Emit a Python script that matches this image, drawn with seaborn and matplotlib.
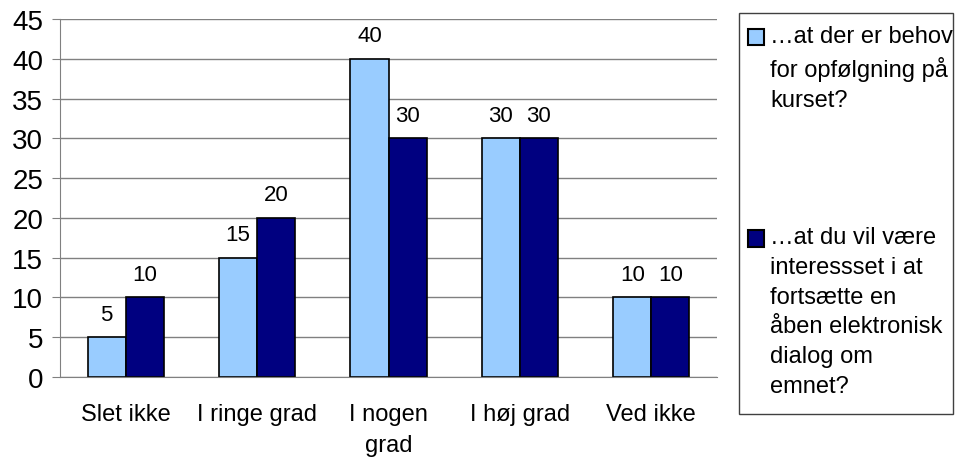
import matplotlib
matplotlib.use("Agg")
import matplotlib.pyplot as plt
from matplotlib.patches import Rectangle
import seaborn as sns
import pandas as pd

categories = ["Slet ikke", "I ringe grad", "I nogen\ngrad", "I høj grad", "Ved ikke"]
behov = [5, 15, 40, 30, 10]
interesse = [10, 20, 30, 30, 10]
series = ["…at der er behov\nfor opfølgning på\nkurset?",
          "…at du vil være\ninteressset i at\nfortsætte en\nåben elektronisk\ndialog om\nemnet?"]
colors = ["#99CCFF", "#000080"]

df = pd.DataFrame({
    "kategori": categories * 2,
    "antal": behov + interesse,
    "serie": [series[0]] * len(categories) + [series[1]] * len(categories),
})

sns.set_style("white")
plt.rcParams["font.family"] = ["Liberation Sans", "DejaVu Sans"]
plt.rcParams["text.color"] = "black"
plt.rcParams["xtick.labelcolor"] = "black"
plt.rcParams["ytick.labelcolor"] = "black"

W, H = 955, 460
fig = plt.figure(figsize=(W / 100, H / 100), dpi=100)
ax = fig.add_axes([60 / W, 1 - 378 / H, 657 / W, 358 / H])

sns.barplot(data=df, x="kategori", y="antal", hue="serie", palette=colors,
            saturation=1, width=0.58, edgecolor="black", linewidth=1.2,
            ax=ax, legend=True)

for c in ax.containers:
    ax.bar_label(c, padding=9, fontsize=16, color="black")

ax.set_ylim(0, 45)
ax.set_xlim(-0.5, 4.5)
ax.set_yticks(range(0, 50, 5))
ax.yaxis.grid(True, color="#808080", linewidth=1)
ax.set_axisbelow(True)
ax.set_xlabel("")
ax.set_ylabel("")

for side in ["top", "right"]:
    ax.spines[side].set_visible(False)
ax.spines["left"].set_color("#808080")
ax.spines["bottom"].set_color("#808080")

ax.set_xticks([i - 0.5 for i in range(len(categories) + 1)], minor=True)
ax.tick_params(axis="x", which="major", length=0, labelsize=17, pad=19)
ax.tick_params(axis="x", which="minor", length=6, color="#808080", direction="out")
ax.tick_params(axis="y", length=6, color="#808080", direction="out",
               labelsize=20, pad=6, left=True)
for lab in ax.get_xticklabels():
    lab.set_linespacing(1.5)

# legend: text + boxes without frame, frame drawn as fixed box like the original
handles, labels = ax.get_legend_handles_labels()
ax.get_legend().remove()
leg = fig.legend(handles, labels, loc="upper left",
                 bbox_to_anchor=(748 / W, 1 - 26 / H),
                 frameon=False, fontsize=17,
                 handlelength=0.68, handleheight=0.68, handletextpad=0.25,
                 labelspacing=4.9, borderpad=0, borderaxespad=0)
for t in leg.get_texts():
    t.set_linespacing(1.45)
for h in leg.legend_handles:
    h.set_edgecolor("black")
    h.set_linewidth(1.5)

fig.patches.append(Rectangle((739 / W, 1 - 415 / H), 214 / W, 401 / H,
                             transform=fig.transFigure, fill=False,
                             edgecolor="#404040", linewidth=1))

# move each legend box up to the first line of its text
fig.canvas.draw()
r = fig.canvas.get_renderer()
for h, t in zip(leg.legend_handles, leg.get_texts()):
    top_t = t.get_window_extent(r).y1
    top_h = h.get_window_extent(r).y1
    h.set_y(h.get_y() + (top_t - top_h - 4) * 72 / fig.dpi)

fig.savefig("out.png", dpi=100)
